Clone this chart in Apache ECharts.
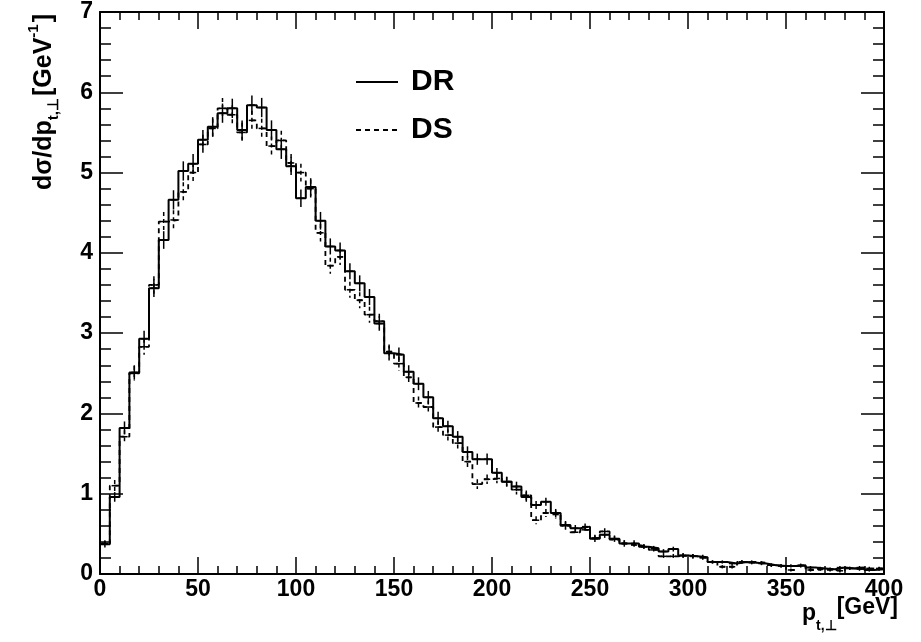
<!DOCTYPE html>
<html>
<head>
<meta charset="utf-8">
<script src="https://cdn.jsdelivr.net/npm/echarts@6/dist/echarts.min.js"></script>
<style>
html, body { margin: 0; padding: 0; background: #fff; }
#chart { width: 921px; height: 642px; }
</style>
</head>
<body>
<div id="chart"></div>
<script>
// histogram binning (GeV)
var binWidth = 5;
var xMin = 0, xMax = 400;
var yMin = 0, yMax = 7;

// dsigma/dpt per 5 GeV bin
var dr = [
  0.37, 0.96, 1.82, 2.51, 2.93, 3.56, 4.16, 4.66, 5.02, 5.11,
  5.41, 5.57, 5.74, 5.80, 5.53, 5.84, 5.81, 5.53, 5.29, 5.08,
  4.68, 4.82, 4.40, 4.08, 4.03, 3.77, 3.62, 3.45, 3.12, 2.75,
  2.73, 2.52, 2.37, 2.20, 1.94, 1.84, 1.71, 1.52, 1.43, 1.43,
  1.26, 1.15, 1.09, 0.96, 0.86, 0.90, 0.76, 0.61, 0.57, 0.59,
  0.44, 0.49, 0.44, 0.38, 0.38, 0.34, 0.32, 0.28, 0.31, 0.23,
  0.22, 0.21, 0.15, 0.15, 0.13, 0.15, 0.14, 0.13, 0.11, 0.10,
  0.10, 0.11, 0.08, 0.07, 0.06, 0.08, 0.07, 0.08, 0.05, 0.06
];
var ds = [
  0.38, 1.10, 1.71, 2.50, 2.83, 3.60, 4.39, 4.41, 4.76, 5.00,
  5.35, 5.55, 5.80, 5.72, 5.50, 5.65, 5.55, 5.33, 5.40, 5.12,
  5.00, 4.80, 4.25, 3.84, 3.95, 3.54, 3.41, 3.23, 3.15, 2.77,
  2.62, 2.45, 2.13, 2.08, 1.83, 1.73, 1.63, 1.40, 1.12, 1.18,
  1.19, 1.15, 1.05, 0.98, 0.67, 0.76, 0.74, 0.60, 0.52, 0.55,
  0.45, 0.53, 0.43, 0.38, 0.36, 0.34, 0.30, 0.22, 0.22, 0.23,
  0.22, 0.20, 0.15, 0.09, 0.09, 0.15, 0.15, 0.14, 0.11, 0.10,
  0.05, 0.10, 0.05, 0.06, 0.05, 0.04, 0.07, 0.06, 0.07, 0.07
];
// statistical errors (half length of the bars)
var drErr = [
  0.04, 0.06, 0.08, 0.09, 0.10, 0.11, 0.11, 0.12, 0.12, 0.12,
  0.12, 0.12, 0.12, 0.12, 0.12, 0.12, 0.12, 0.12, 0.12, 0.11,
  0.11, 0.11, 0.11, 0.10, 0.10, 0.10, 0.10, 0.10, 0.09, 0.09,
  0.09, 0.08, 0.08, 0.08, 0.08, 0.07, 0.07, 0.07, 0.07, 0.07,
  0.06, 0.06, 0.06, 0.06, 0.05, 0.05, 0.05, 0.05, 0.04, 0.04,
  0.04, 0.04, 0.04, 0.04, 0.04, 0.03, 0.03, 0.03, 0.03, 0.03,
  0.03, 0.03, 0.02, 0.02, 0.02, 0.02, 0.02, 0.02, 0.02, 0.02,
  0.02, 0.02, 0.02, 0.02, 0.02, 0.02, 0.02, 0.02, 0.02, 0.02
];
var dsErr = [
  0.04, 0.07, 0.08, 0.09, 0.10, 0.11, 0.12, 0.12, 0.12, 0.12,
  0.12, 0.12, 0.13, 0.12, 0.12, 0.12, 0.12, 0.12, 0.12, 0.11,
  0.11, 0.11, 0.11, 0.10, 0.10, 0.10, 0.10, 0.10, 0.09, 0.09,
  0.09, 0.08, 0.08, 0.08, 0.08, 0.07, 0.07, 0.07, 0.06, 0.06,
  0.06, 0.06, 0.06, 0.06, 0.05, 0.05, 0.05, 0.05, 0.04, 0.04,
  0.04, 0.04, 0.04, 0.04, 0.04, 0.03, 0.03, 0.03, 0.03, 0.03,
  0.03, 0.03, 0.02, 0.02, 0.02, 0.02, 0.02, 0.02, 0.02, 0.02,
  0.02, 0.02, 0.02, 0.02, 0.02, 0.02, 0.02, 0.02, 0.02, 0.02
];
var seriesNames = ['DR', 'DS'];

var FONT = '"Liberation Sans", Arial, Helvetica, sans-serif';

function stepData(vals) {
  var d = [];
  for (var i = 0; i < vals.length; i++) d.push([i * binWidth, vals[i]]);
  d.push([vals.length * binWidth, vals[vals.length - 1]]);
  return d;
}
function errData(vals, errs) {
  var d = [];
  for (var i = 0; i < vals.length; i++) d.push([i * binWidth + binWidth / 2, vals[i], errs[i]]);
  return d;
}
function errRenderer(dash) {
  return function (params, api) {
    var x = api.value(0), v = api.value(1), e = api.value(2);
    var top = api.coord([x, v + e]);
    var bot = api.coord([x, v - e]);
    var l = api.coord([x - 1.6, v]);
    var r = api.coord([x + 1.6, v]);
    var st = { stroke: '#000', lineWidth: 1.5, lineDash: dash };
    return {
      type: 'group',
      children: [
        { type: 'line', shape: { x1: top[0], y1: top[1], x2: bot[0], y2: bot[1] }, style: st },
        { type: 'line', shape: { x1: l[0], y1: l[1], x2: r[0], y2: r[1] }, style: { stroke: '#000', lineWidth: 1.5 } }
      ]
    };
  };
}

// text measuring for the axis titles with sub/superscripts
var mctx = document.createElement('canvas').getContext('2d');
function tw(s, font) { mctx.font = font; return mctx.measureText(s).width; }

var big = 'bold 25px ' + FONT, small = 'bold 15px ' + FONT;
var xbig = 'bold 23px ' + FONT, xsmall = 'bold 14px ' + FONT;

// y title, built horizontally then rotated
var yParts = [
  { t: 'd\u03c3/dp', f: big, dy: 0 },
  { t: 't,\u22a5', f: small, dy: 10 },
  { t: '[GeV', f: big, dy: 0 },
  { t: '-1', f: small, dy: -10 },
  { t: ']', f: big, dy: 0 }
];
var yKids = [], cx = 0;
yParts.forEach(function (p) {
  yKids.push({ type: 'text', x: cx, y: p.dy, style: { text: p.t, font: p.f, fill: '#000', verticalAlign: 'middle' } });
  cx += tw(p.t, p.f) + (p.f === small ? 2 : 0);
});

var xParts = [
  { t: 'p', f: xbig, dy: 0 },
  { t: 't,\u22a5', f: xsmall, dy: 12 },
  { t: '[GeV]', f: xbig, dy: -6 }
];
var xKids = [], xw = 0;
xParts.forEach(function (p) { xw += tw(p.t, p.f); });
cx = 0;
xParts.forEach(function (p) {
  xKids.push({ type: 'text', x: cx, y: p.dy, style: { text: p.t, font: p.f, fill: '#000', verticalAlign: 'middle' } });
  cx += tw(p.t, p.f);
});

var chart = echarts.init(document.getElementById('chart'));

var axisCommon = {
  type: 'value',
  axisLine: { show: true, onZero: false, lineStyle: { color: '#000', width: 2 } },
  splitLine: { show: false },
  minorSplitLine: { show: false }
};

var option = {
  animation: false,
  backgroundColor: '#fff',
  grid: { left: 100, right: 37, top: 12, bottom: 68, containLabel: false },
  legend: {
    data: seriesNames,
    orient: 'vertical',
    left: 350,
    top: 62,
    itemWidth: 42,
    itemHeight: 30,
    itemGap: 18,
    itemStyle: { color: 'rgba(0,0,0,0)', borderWidth: 0 },
    textStyle: { fontFamily: FONT, fontWeight: 'bold', fontSize: 30, color: '#000', padding: [0, 0, 0, 8] }
  },
  xAxis: [
    Object.assign({}, axisCommon, {
      position: 'bottom', min: xMin, max: xMax, interval: 50,
      axisTick: { show: true, inside: true, length: 17, lineStyle: { color: '#000', width: 1.5 } },
      minorTick: { show: true, splitNumber: 5, length: 8, lineStyle: { color: '#000', width: 1.5 } },
      axisLabel: { fontFamily: FONT, fontWeight: 'bold', fontSize: 23, color: '#000', margin: 4 }
    }),
    Object.assign({}, axisCommon, {
      position: 'top', min: xMin, max: xMax, interval: 50,
      axisTick: { show: true, inside: true, length: 17, lineStyle: { color: '#000', width: 1.5 } },
      minorTick: { show: true, splitNumber: 5, length: 8, lineStyle: { color: '#000', width: 1.5 } },
      axisLabel: { show: false }
    })
  ],
  yAxis: [
    Object.assign({}, axisCommon, {
      position: 'left', min: yMin, max: yMax, interval: 1,
      axisTick: { show: true, inside: true, length: 23, lineStyle: { color: '#000', width: 1.5 } },
      minorTick: { show: true, splitNumber: 5, length: 11, lineStyle: { color: '#000', width: 1.5 } },
      axisLabel: { fontFamily: FONT, fontWeight: 'bold', fontSize: 23, color: '#000', margin: 7 }
    }),
    Object.assign({}, axisCommon, {
      position: 'right', min: yMin, max: yMax, interval: 1,
      axisTick: { show: true, inside: true, length: 23, lineStyle: { color: '#000', width: 1.5 } },
      minorTick: { show: true, splitNumber: 5, length: 11, lineStyle: { color: '#000', width: 1.5 } },
      axisLabel: { show: false }
    })
  ],
  series: [
    {
      name: 'DR', type: 'line', step: 'end', symbol: 'none', data: stepData(dr),
      lineStyle: { color: '#000', width: 2, type: 'solid' }, itemStyle: { color: '#000' }, z: 3
    },
    {
      name: 'DS', type: 'line', step: 'end', symbol: 'none', data: stepData(ds),
      lineStyle: { color: '#000', width: 1.8, type: [5, 4] }, itemStyle: { color: '#000' }, z: 2
    },
    {
      name: 'DR err', type: 'custom', renderItem: errRenderer(null),
      data: errData(dr, drErr), encode: { x: 0, y: 1 }, z: 4
    },
    {
      name: 'DS err', type: 'custom', renderItem: errRenderer([4, 3]),
      data: errData(ds, dsErr), encode: { x: 0, y: 1 }, z: 4
    }
  ],
  graphic: [
    { type: 'group', x: 44, y: 190, rotation: Math.PI / 2, children: yKids },
    { type: 'group', x: 898 - xw, y: 614, children: xKids }
  ]
};

chart.setOption(option);
</script>
</body>
</html>
